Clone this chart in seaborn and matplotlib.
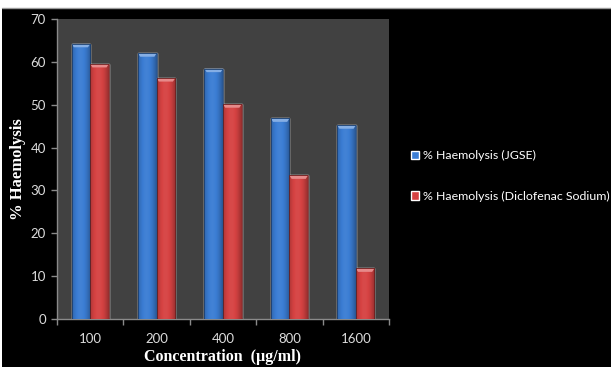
import numpy as np
import pandas as pd
import matplotlib
matplotlib.use("Agg")
import matplotlib.pyplot as plt
from matplotlib.patches import Rectangle, Polygon
from matplotlib.lines import Line2D
import seaborn as sns

# Haemolysis inhibition data
concentrations = ["100", "200", "400", "800", "1600"]
haemolysis_jgse = [64.2, 62.0, 58.4, 46.8, 45.2]
haemolysis_diclofenac = [59.5, 56.2, 50.1, 33.5, 11.8]
series_names = ["% Haemolysis (JGSE)", "% Haemolysis (Diclofenac Sodium)"]
y_ticks = [0, 10, 20, 30, 40, 50, 60, 70]

df = pd.DataFrame({
    "Concentration": concentrations * 2,
    "Haemolysis": haemolysis_jgse + haemolysis_diclofenac,
    "Series": [series_names[0]] * len(concentrations) + [series_names[1]] * len(concentrations),
})

sns.set_theme(style="white")
plt.rcParams["font.family"] = ["Lato", "DejaVu Sans"]

blue = (0.23, 0.49, 0.83)
red = (0.84, 0.26, 0.26)
palette = {series_names[0]: blue, series_names[1]: red}

W, H = 611, 367
fig = plt.figure(figsize=(W / 100, H / 100), dpi=100)
fig.patch.set_facecolor("white")
# black canvas with a thin white margin at the top and left
fig.patches.append(Rectangle((2 / W, 0), 1 - 2 / W, 1 - 8 / H, transform=fig.transFigure,
                             facecolor="black", edgecolor="none", zorder=-10))
fig.lines.append(Line2D([2 / W, 1], [1 - 8 / H, 1 - 8 / H], transform=fig.transFigure,
                        color="#9a9a9a", lw=1, zorder=-9))

ax = fig.add_axes([57 / W, 1 - 319 / H, (389 - 57) / W, (319 - 19) / H])
ax.set_facecolor("#414141")

sns.barplot(data=df, x="Concentration", y="Haemolysis", hue="Series",
            order=concentrations, hue_order=series_names, palette=palette,
            width=0.56, saturation=1, ax=ax, legend=True, zorder=2)


def shade(base, profile):
    base = np.array(base)
    out = []
    for p in profile:
        if p >= 0:
            out.append(base + (1 - base) * p)
        else:
            out.append(base * (1 + p))
    return np.clip(np.array(out), 0, 1)


xs = np.linspace(0, 1, 40)
profile = -0.35 * (np.abs(xs - 0.45) / 0.55) ** 2 + 0.04
for patch in ax.patches:
    x0, w, h = patch.get_x(), patch.get_width(), patch.get_height()
    if h <= 0 or w <= 0:
        continue
    base = patch.get_facecolor()[:3]
    img = shade(base, profile)[np.newaxis, :, :]
    im = ax.imshow(img, extent=(x0, x0 + w, 0, h), aspect="auto",
                   interpolation="bilinear", zorder=3)
    im.set_clip_path(patch)
    # bevelled highlight cap at the top of each bar
    cap = 0.8
    inset = w * 0.12
    light = shade(base, [0.38])[0]
    ax.add_patch(Polygon([(x0, h), (x0 + w, h), (x0 + w - inset, h - cap), (x0 + inset, h - cap)],
                         closed=True, facecolor=light, edgecolor="none", zorder=4))
    ax.add_patch(Rectangle((x0, 0), w, h, facecolor="none",
                           edgecolor=shade(base, [-0.5])[0], lw=0.6, zorder=5))

ax.set_xlim(-0.5, len(concentrations) - 0.5)
ax.set_ylim(0, 70)
ax.set_yticks(y_ticks)
ax.set_xticks(np.arange(len(concentrations) + 1) - 0.5, minor=False)
ax.set_xticklabels([])
ax.set_xticks(np.arange(len(concentrations)), minor=True)
ax.set_xticklabels(concentrations, minor=True)

for side in ["top", "right"]:
    ax.spines[side].set_visible(False)
for side in ["left", "bottom"]:
    ax.spines[side].set_color("#8a8a8a")
    ax.spines[side].set_linewidth(1)

ax.tick_params(axis="both", which="major", direction="out", length=4, width=1,
               color="#8a8a8a", labelcolor="#dcdcdc", labelsize=9.5, left=True, bottom=True)
ax.tick_params(axis="x", which="minor", length=0, labelcolor="#dcdcdc", labelsize=9.5, pad=10)
ax.tick_params(axis="y", pad=4)

serif = ["Liberation Serif", "DejaVu Serif"]
ax.set_ylabel("% Haemolysis", family=serif, fontweight="bold", fontsize=12, color="white")
ax.yaxis.set_label_coords(-0.093, 0.5)
ax.set_xlabel("Concentration  (µg/ml)", family=serif, fontweight="bold", fontsize=11.5,
              color="white", labelpad=3)

handles, labels = ax.get_legend_handles_labels()
leg = ax.legend(handles, labels, loc="center left", bbox_to_anchor=(406 / W, 1 - 176 / H),
                bbox_transform=fig.transFigure, frameon=False, fontsize=8.9,
                handlelength=0.65, handleheight=0.65, handletextpad=0.3,
                labelspacing=2.4, labelcolor="white", borderaxespad=0)

fig.savefig("out.png", dpi=100, facecolor=fig.get_facecolor())
